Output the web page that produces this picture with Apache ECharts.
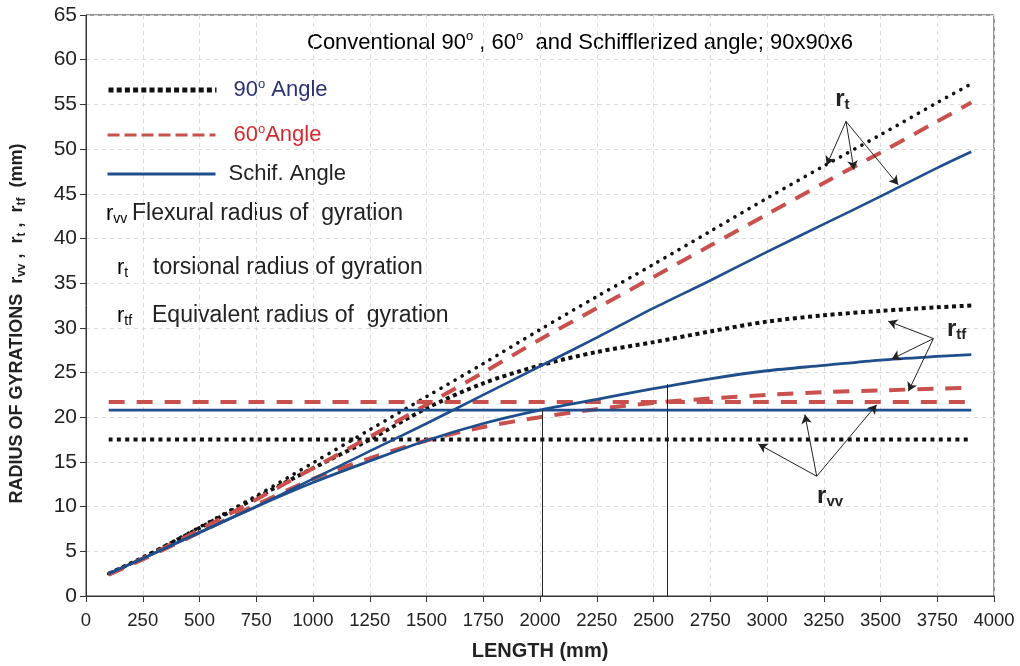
<!DOCTYPE html>
<html lang="en">
<head>
    <meta charset="UTF-8">
    <title>Radius of gyration vs length</title>
    <script src="https://cdn.jsdelivr.net/npm/echarts@6/dist/echarts.min.js"></script>
    <style>
        html, body { margin: 0; padding: 0; background: #fff; }
        #container { width: 1020px; height: 666px; }
    </style>
</head>
<body>
<div id="container"></div>
<script type="text/javascript">
    var lengths = [100, 250, 500, 750, 1000, 1250, 1500, 1750, 2000, 2250, 2500, 2750, 3000, 3250, 3500, 3750, 3900];

    // torsional radius r_t
    var rt90 = [2.5, 4.3, 7.7, 11.2, 14.9, 18.6, 22.3, 26.0, 29.8, 33.5, 37.1, 40.8, 44.5, 48.1, 51.6, 55.2, 57.3];
    var rt60 = [2.4, 4.2, 7.4, 10.8, 14.3, 17.8, 21.4, 25.0, 28.7, 32.2, 35.7, 39.2, 42.7, 46.2, 49.6, 53.1, 55.2];
    var rtSchif = [2.5, 4.2, 7.1, 10.0, 13.1, 16.2, 19.3, 22.5, 25.7, 28.9, 32.2, 35.3, 38.5, 41.6, 44.7, 47.9, 49.7];

    // equivalent radius r_tf
    var rtf90 = [2.5, 4.3, 7.6, 11.0, 14.3, 17.5, 21.0, 23.8, 25.8, 27.3, 28.4, 29.6, 30.7, 31.4, 31.9, 32.3, 32.5];
    var rtf60 = [2.4, 4.1, 7.1, 10.2, 13.1, 15.4, 17.4, 18.9, 20.0, 20.9, 21.6, 22.1, 22.5, 22.8, 23.0, 23.2, 23.3];
    var rtfSchif = [2.5, 4.2, 7.1, 10.0, 12.7, 15.1, 17.4, 19.3, 20.8, 22.0, 23.2, 24.3, 25.2, 25.8, 26.4, 26.8, 27.0];

    // flexural radius r_vv (constant)
    var rvvLengths = [100, 3900];
    var rvv90 = [17.5, 17.5];
    var rvv60 = [21.7, 21.7];
    var rvvSchif = [20.8, 20.8];

    // vertical reference lines
    var crossLengths = [2010, 2560];
    var crossTops = [20.8, 23.7];

    // annotation arrows: [from, to] in data units
    var rtArrows = [[[3348, 53.1], [3263, 48.2]], [[3348, 53.1], [3383, 47.7]], [[3348, 53.1], [3578, 46.0]]];
    var rtfArrows = [[[3733, 28.8], [3534, 30.75]], [[3733, 28.8], [3549, 26.5]], [[3733, 28.8], [3623, 22.9]]];
    var rvvArrows = [[[3219, 13.4], [2962, 17.0]], [[3219, 13.4], [3167, 20.3]], [[3219, 13.4], [3483, 21.4]]];

    var xTicks = { min: 0, max: 4000, interval: 250 };
    var yTicks = { min: 0, max: 65, interval: 5 };

    var FONT = "'Liberation Sans', Arial, sans-serif";
    var BLACK = '#111111';
    var RED = '#c8504d';
    var BLUE = '#1f4e8c';

    function zip(xs, ys) {
        return xs.map(function (x, i) { return [x, ys[i]]; });
    }

    function arrowData(list) {
        return list.map(function (a) {
            return [{ coord: a[0] }, { coord: a[1] }];
        });
    }

    function curve(name, values, xs, color, width, dash, cap) {
        return {
            name: name,
            type: 'line',
            data: zip(xs, values),
            smooth: 0.3,
            symbol: 'none',
            showSymbol: false,
            lineStyle: { color: color, width: width, type: dash, cap: cap || 'butt' },
            itemStyle: { color: color },
            silent: true
        };
    }

    var dom = document.getElementById('container');
    var myChart = echarts.init(dom, null, { renderer: 'canvas' });

    function legendFor(name, top, color, label, gap, line) {
        return {
            data: [name],
            left: 106,
            top: top,
            orient: 'vertical',
            padding: 0,
            itemWidth: 108,
            itemHeight: 14,
            selectedMode: false,
            formatter: label,
            itemStyle: { opacity: 0 },
            lineStyle: line,
            textStyle: {
                color: color,
                fontFamily: FONT,
                fontSize: 22,
                padding: [0, 0, 0, gap],
                rich: {
                    n: { fontFamily: FONT, fontSize: 22, color: color, lineHeight: 24 },
                    o: { fontFamily: FONT, fontSize: 13, color: color, lineHeight: 14, verticalAlign: 'top' }
                }
            }
        };
    }

    var subRich = {
        r: { fontFamily: FONT, fontSize: 22, color: '#222', lineHeight: 24 },
        s: { fontFamily: FONT, fontSize: 14, color: '#222', lineHeight: 13, verticalAlign: 'bottom' }
    };
    var boldRich = {
        r: { fontFamily: FONT, fontSize: 24, fontWeight: 'bold', color: '#222', lineHeight: 26 },
        s: { fontFamily: FONT, fontSize: 15, fontWeight: 'bold', color: '#222', lineHeight: 14, verticalAlign: 'bottom' }
    };

    option = {
        animation: false,
        backgroundColor: '#ffffff',
        grid: {
            left: 86, right: 26, top: 15, bottom: 69,
            show: true, borderColor: '#333', borderWidth: 1
        },
        legend: [
            legendFor('90 Angle', 78, '#2b3275', '{n|90}{o|o}{n| Angle}', 12, { width: 5, type: [5, 3.2] }),
            legendFor('60 Angle', 123, '#d42a2e', '{n|60}{o|o}{n|Angle}', 13, { width: 3, type: [12, 5] }),
            legendFor('Schif. Angle', 163, '#222222', '{n|Schif. Angle}', 8, { width: 3 })
        ],
        xAxis: {
            type: 'value',
            min: xTicks.min, max: xTicks.max, interval: xTicks.interval,
            name: 'LENGTH (mm)',
            nameLocation: 'middle',
            nameGap: 45,
            nameTextStyle: { fontFamily: FONT, fontSize: 20, fontWeight: 'bold', color: '#222' },
            axisLine: { lineStyle: { color: '#333', width: 1 } },
            axisTick: { show: true, inside: false, length: 6, lineStyle: { color: '#333' } },
            axisLabel: {
                fontFamily: FONT, fontSize: 18.5, color: '#222', margin: 15,
                formatter: function (v) { return String(v); }
            },
            splitLine: { show: true, lineStyle: { color: '#dcdcdc', type: [4, 4], width: 1 } }
        },
        yAxis: {
            type: 'value',
            min: yTicks.min, max: yTicks.max, interval: yTicks.interval,
            name: '{b|RADIUS OF GYRATIONS  r}{s|vv}{b| ,  r}{s|t}{b| ,  r}{s|tf}{b|  (mm)}',
            nameLocation: 'middle',
            nameGap: 58,
            nameRotate: 90,
            nameTextStyle: {
                padding: [0, 36, 0, 0],
                rich: {
                    b: { fontFamily: FONT, fontSize: 18, fontWeight: 'bold', color: '#222', lineHeight: 22 },
                    s: { fontFamily: FONT, fontSize: 12, fontWeight: 'bold', color: '#222', lineHeight: 13, verticalAlign: 'bottom' }
                }
            },
            axisLine: { show: true, lineStyle: { color: '#333', width: 1 } },
            axisTick: { show: true, inside: false, length: 6, lineStyle: { color: '#333' } },
            axisLabel: { fontFamily: FONT, fontSize: 21, color: '#222', margin: 9 },
            splitLine: { show: true, lineStyle: { color: '#dcdcdc', type: [4, 4], width: 1 } }
        },
        graphic: [
            {
                type: 'text', x: 307, y: 43,
                style: {
                    text: '{t|Conventional 90}{o|o}{t| , 60}{o|o}{t|  and Schifflerized angle; 90x90x6}',
                    verticalAlign: 'middle',
                    rich: {
                        t: { fontFamily: FONT, fontSize: 22, color: '#222', lineHeight: 26 },
                        o: { fontFamily: FONT, fontSize: 13, color: '#222', lineHeight: 14, verticalAlign: 'top' }
                    }
                }
            },
            { type: 'text', x: 106, y: 214, style: { text: '{r|r}{s|vv}', rich: subRich, verticalAlign: 'middle' } },
            { type: 'text', x: 132, y: 214, style: { text: 'Flexural radius of  gyration', font: '23px ' + FONT, fill: '#222', verticalAlign: 'middle' } },
            { type: 'text', x: 117, y: 268, style: { text: '{r|r}{s|t}', rich: subRich, verticalAlign: 'middle' } },
            { type: 'text', x: 153, y: 268, style: { text: 'torsional radius of gyration', font: '23px ' + FONT, fill: '#222', verticalAlign: 'middle' } },
            { type: 'text', x: 117, y: 316, style: { text: '{r|r}{s|tf}', rich: subRich, verticalAlign: 'middle' } },
            { type: 'text', x: 152, y: 316, style: { text: 'Equivalent radius of  gyration', font: '23px ' + FONT, fill: '#222', verticalAlign: 'middle' } }
        ],
        series: [
            // 90 degree angle: black dotted
            curve('90 Angle', rvv90, rvvLengths, BLACK, 4, [4, 4.3]),
            curve('90 Angle', rtf90, lengths, BLACK, 4, [4, 3.6]),
            curve('90 Angle', rt90, lengths, BLACK, 3.6, [0.1, 8], 'round'),
            // 60 degree angle: red dashed
            curve('60 Angle', rvv60, rvvLengths, RED, 4, [16, 12]),
            curve('60 Angle', rtf60, lengths, RED, 4, [16, 12]),
            curve('60 Angle', rt60, lengths, RED, 4, [16, 11]),
            // Schifflerized angle: blue solid
            curve('Schif. Angle', rvvSchif, rvvLengths, BLUE, 2.8, 'solid'),
            curve('Schif. Angle', rtfSchif, lengths, BLUE, 2.8, 'solid'),
            curve('Schif. Angle', rtSchif, lengths, BLUE, 2.6, 'solid'),
            // vertical reference lines
            {
                name: 'marks',
                type: 'line',
                data: [],
                silent: true,
                symbol: 'none',
                markLine: {
                    silent: true,
                    animation: false,
                    symbol: ['none', 'none'],
                    label: { show: false },
                    lineStyle: { color: '#222', width: 1, type: 'solid' },
                    data: crossLengths.map(function (x, i) {
                        return [{ coord: [x, 0] }, { coord: [x, crossTops[i]] }];
                    })
                }
            },
            // arrows and their labels
            {
                name: 'arrows',
                type: 'line',
                data: [],
                silent: true,
                symbol: 'none',
                markLine: {
                    silent: true,
                    animation: false,
                    symbol: ['none', 'arrow'],
                    symbolSize: [8, 9],
                    label: { show: false },
                    lineStyle: { color: '#222', width: 1, type: 'solid' },
                    data: arrowData(rtArrows).concat(arrowData(rtfArrows)).concat(arrowData(rvvArrows))
                },
                markPoint: {
                    silent: true,
                    animation: false,
                    symbol: 'circle',
                    symbolSize: 1,
                    itemStyle: { color: 'rgba(0,0,0,0)' },
                    label: { show: true, position: 'inside', rich: boldRich },
                    data: [
                        { coord: [3332, 55.6], label: { formatter: '{r|r}{s|t}' } },
                        { coord: [3835, 29.8], label: { formatter: '{r|r}{s|tf}' } },
                        { coord: [3278, 11.2], label: { formatter: '{r|r}{s|vv}' } }
                    ]
                }
            }
        ]
    };

    myChart.setOption(option);
    window.addEventListener('resize', myChart.resize);
</script>
</body>
</html>
